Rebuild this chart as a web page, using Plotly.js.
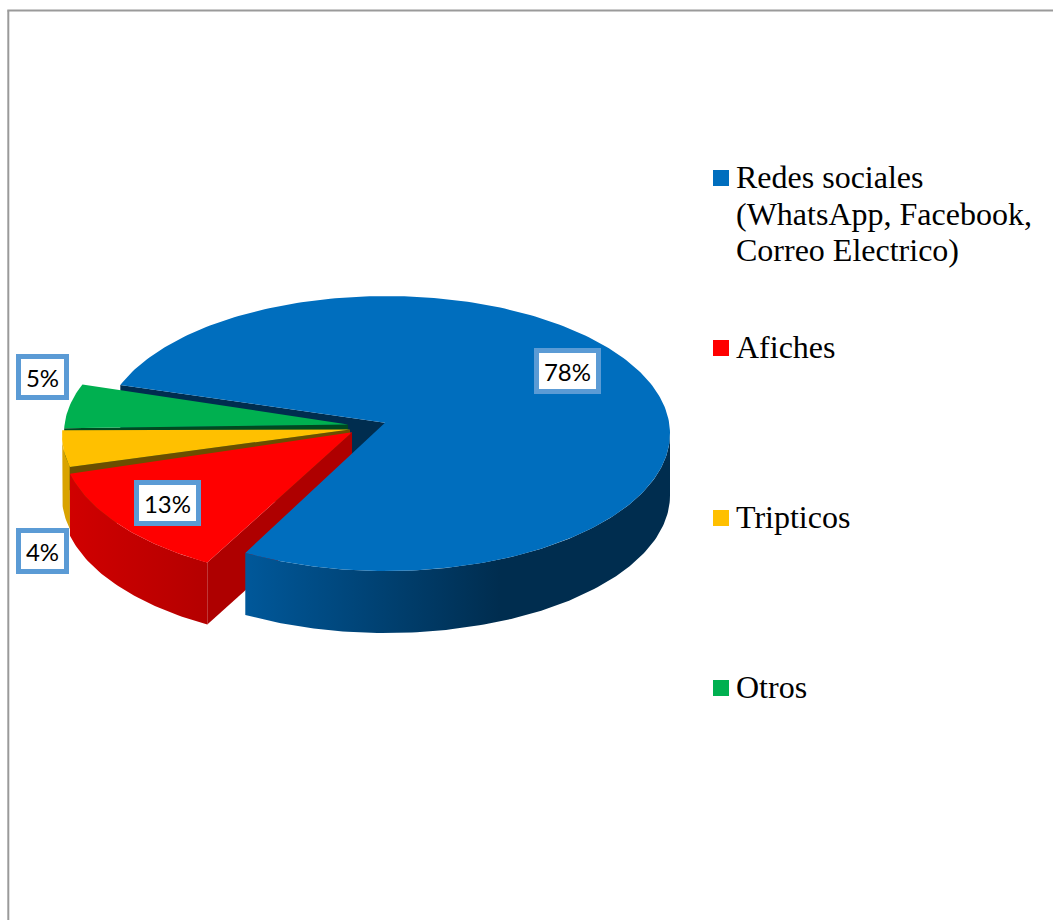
<!DOCTYPE html>
<html>
<head>
<meta charset="utf-8">
<script src="https://cdn.plot.ly/plotly-3.0.1.min.js"></script>
<style>html,body{margin:0;padding:0;background:#fff;overflow:hidden}#chart{width:1053px;height:920px}</style>
</head>
<body>
<div id="chart"></div>
<script>
// ---- data ----
const categories = ['Redes sociales (WhatsApp, Facebook, Correo Electrico)', 'Afiches', 'Tripticos', 'Otros'];
const legendLines = [['Redes sociales', '(WhatsApp, Facebook,', 'Correo Electrico)'], ['Afiches'], ['Tripticos'], ['Otros']];
const values = [77.5, 13.0, 4.3, 5.2];

// ---- styling ----
const topColors = ['#006EBE', '#FF0000', '#FFC000', '#00B050'];
const innerColors = ['#002D4F', '#AE0000', '#6B4E00', '#004A20'];
const labelCenters = [[567.5, 371], [167.5, 503], [42.5, 550.5], [42.5, 377]];
const labelWidths = [57, 57, 43, 43];
const legendRowY = [177, 347, 517, 687];
const geometry = [
  {cx: 386, cy: 433.5, rx: 284, ry: 137.5, ax: 385, ay: 422.7},
  {cx: 350, cy: 441, rx: 288, ry: 140, ax: 352, ay: 432.3},
  {cx: 347, cy: 435, rx: 285, ry: 137.5, ax: 350, ay: 429.5},
  {cx: 350, cy: 433, rx: 286, ry: 137.5, ax: 348, ay: 424.5}
];
const depth = 62;
const startAngle = -69.3;

// ---- angles come from the values ----
const total = values.reduce((a, b) => a + b, 0);
let running = startAngle;
const spans = values.map(v => { const s = [running, running + v / total * 360]; running = s[1]; return s; });

function rim(g, a0, a1, dy) {
  const xs = [], ys = [], n = Math.max(2, Math.ceil(Math.abs(a1 - a0)));
  for (let i = 0; i <= n; i++) {
    const t = (a0 + (a1 - a0) * i / n) * Math.PI / 180;
    xs.push(g.cx + g.rx * Math.sin(t));
    ys.push(g.cy - g.ry * Math.cos(t) + dy);
  }
  return [xs, ys];
}
function poly(name, xs, ys, color, extra) {
  return Object.assign({type: 'scatter', mode: 'lines', name, x: xs, y: ys, fill: 'toself',
    fillcolor: color, line: {width: 0}, hoverinfo: 'skip', showlegend: false}, extra || {});
}
function topFace(i) {
  const g = geometry[i], [xs, ys] = rim(g, spans[i][0], spans[i][1], 0);
  return poly(categories[i], [g.ax, ...xs, g.ax], [g.ay, ...ys, g.ay], topColors[i]);
}
// inner cut face hanging from the slice's straight edge at the given angle
function innerFace(i, angle) {
  const g = geometry[i], [xs, ys] = rim(g, angle, angle, 0), x = xs[0], y = ys[0];
  return poly(categories[i] + ' corte', [g.ax, x, x, g.ax, g.ax], [g.ay, y, y + depth, g.ay + depth, g.ay], innerColors[i]);
}
function sideFace(i, a0, a1, color, extra) {
  const g = geometry[i], [xs, ys] = rim(g, a0, a1, 0), [xb, yb] = rim(g, a1, a0, depth);
  return poly(categories[i] + ' lado', [...xs, ...xb, xs[0]], [...ys, ...yb, ys[0]], color, extra);
}
function gradient(c0, c1, start, stop) {
  return {fillgradient: {type: 'horizontal', colorscale: [[0, c0], [1, c1]], start, stop}};
}

const traces = [
  innerFace(0, spans[0][0]),
  innerFace(3, spans[3][0]),
  topFace(3),
  sideFace(2, spans[2][0], spans[2][1], '#D9A300'),
  innerFace(2, spans[2][0]),
  topFace(2),
  sideFace(1, spans[1][0], spans[1][1], '#C80000', gradient('#D00000', '#B40000', 70, 208)),
  innerFace(1, spans[1][0]),
  topFace(1),
  sideFace(0, 90, spans[0][1], '#002D4F', gradient('#00589A', '#002D4F', 245, 500)),
  topFace(0),
  {type: 'scatter', mode: 'markers', name: 'Leyenda', x: legendRowY.map(() => 721), y: legendRowY.map(y => y + 1),
   marker: {symbol: 'square', size: 16, color: topColors, line: {width: 0}}, hoverinfo: 'skip', showlegend: false}
];

const annotations = [];
values.forEach((v, i) => {
  annotations.push({x: labelCenters[i][0], y: labelCenters[i][1], xref: 'x', yref: 'y', showarrow: false,
    text: Math.round(v) + '%', font: {family: 'Lato, Carlito, sans-serif', size: 24, color: '#000'},
    bgcolor: '#FFFFFF', bordercolor: '#5B9BD5', borderwidth: 5, borderpad: 0, width: labelWidths[i], height: 36,
    xanchor: 'center', yanchor: 'middle', align: 'center', valign: 'middle'});
});
legendLines.forEach((lines, i) => {
  lines.forEach((line, k) => {
    annotations.push({x: 735, y: legendRowY[i] + k * 36.5, xref: 'x', yref: 'y', showarrow: false, text: line,
      font: {family: '"Liberation Serif", serif', size: 32, color: '#000'}, xanchor: 'left', yanchor: 'middle', align: 'left', borderpad: 0});
  });
});

const frameColor = '#9A9A9A';
const layout = {
  width: 1053, height: 920, margin: {l: 0, r: 0, t: 0, b: 0, pad: 0},
  paper_bgcolor: '#FFFFFF', plot_bgcolor: '#FFFFFF', showlegend: false,
  xaxis: {range: [0, 1053], visible: false, fixedrange: true},
  yaxis: {range: [920, 0], visible: false, fixedrange: true},
  annotations,
  shapes: [
    {type: 'line', xref: 'x', yref: 'y', x0: 8.3, x1: 8.3, y0: 10.5, y1: 920, line: {color: frameColor, width: 2}, layer: 'below'},
    {type: 'line', xref: 'x', yref: 'y', x0: 7.3, x1: 1053, y0: 10.5, y1: 10.5, line: {color: frameColor, width: 2}, layer: 'below'}
  ]
};
Plotly.newPlot('chart', traces, layout, {displayModeBar: false, staticPlot: true});
</script>
</body>
</html>
